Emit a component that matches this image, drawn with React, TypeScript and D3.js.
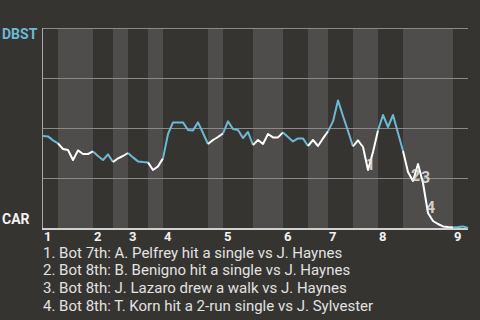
import React from "react";
import * as d3 from "d3";

// DBST win probability (%) after each event
const winProb: number[] = [
  46, 45.8, 43.8, 42.3, 39.5, 39, 34, 38.8, 37, 37,
  38.3, 36, 34, 36.8, 33, 34.8, 36, 37.5, 35.3, 33.3,
  33, 32.8, 29, 30.8, 34.8, 47, 52.8, 52.8, 52.8, 49,
  48.8, 52.8, 47.5, 42, 44, 45.5, 47.3, 53.3, 49.5, 49,
  45, 48, 41.5, 44, 42, 47, 45.3, 45.3, 47.8, 45.5,
  43.3, 44.8, 44.8, 41, 44, 41, 44.8, 48.3, 53.3, 63.8,
  56, 48.5, 40.8, 43.8, 40.5, 29, 38, 48.8, 56.5, 50.5,
  56.5, 47.5, 38.5, 28, 23.5, 32, 22.5, 7.5, 3.5, 2,
  0.8, 0.5, 0.3, 0.5, 0.8, 0,
];

// half-inning boundaries (event index)
const halfInningBounds: number[] = [0, 3, 10, 14, 17, 21, 24, 33, 36, 42, 48, 53, 57, 62, 67, 72, 82, 85];
const inningLabels: string[] = ["1", "2", "3", "4", "5", "6", "7", "8", "9"];

const gridTicks: number[] = [100, 75, 50, 25];

const keyEvents: { idx: number; label: string }[] = [
  { idx: 65, label: "1" },
  { idx: 74, label: "2" },
  { idx: 76, label: "3" },
  { idx: 77, label: "4" },
];

const legendLines: string[] = [
  "1. Bot 7th: A. Pelfrey hit a single vs J. Haynes",
  "2. Bot 8th: B. Benigno hit a single vs J. Haynes",
  "3. Bot 8th: J. Lazaro drew a walk vs J. Haynes",
  "4. Bot 8th: T. Korn hit a 2-run single vs J. Sylvester",
];

const awayTeam = "DBST";
const homeTeam = "CAR";

const W = 480;
const H = 320;
const BG = "#363431";
const BAND = "#4f4d4b";
const BLUE = "#6bbad5";
const FONT = "Roboto, 'Noto Sans', sans-serif";

export default function App() {
  const x = d3.scaleLinear().domain([0, winProb.length - 1]).range([43, 468]);
  const y = d3.scaleLinear().domain([0, 100]).range([228, 28]);

  const halves = d3.range(halfInningBounds.length - 1).map((h) => ({
    h,
    start: halfInningBounds[h],
    end: halfInningBounds[h + 1],
  }));

  const segments = halves.map((hv) => {
    const pts = winProb.slice(hv.start, hv.end + 1);
    const path = d3
      .line<number>()
      .x((_, i) => x(hv.start + i))
      .y((d) => y(d))(pts);
    return { ...hv, path };
  });

  const inningStarts = halves.filter((hv) => hv.h % 2 === 0).map((hv) => hv.start);

  return (
    <svg
      width={W}
      height={H}
      style={{ position: "absolute", left: 0, top: 0, fontFamily: FONT }}
    >
      <rect x={0} y={0} width={W} height={H} fill={BG} />
      {halves
        .filter((hv) => hv.h % 2 === 1)
        .map((hv) => (
          <rect
            key={hv.h}
            x={x(hv.start)}
            y={y(100)}
            width={x(hv.end) - x(hv.start)}
            height={y(0) - y(100) + 1}
            fill={BAND}
          />
        ))}
      {gridTicks.map((t) => (
        <line
          key={t}
          x1={x(0)}
          x2={x(winProb.length - 1)}
          y1={y(t) + 0.5}
          y2={y(t) + 0.5}
          stroke="#8c8a88"
          strokeWidth={1}
        />
      ))}
      <line x1={42.5} x2={42.5} y1={y(100)} y2={y(0) + 2} stroke="#a8a8a8" strokeWidth={1} />
      <line x1={42} x2={468} y1={y(0) + 1} y2={y(0) + 1} stroke="#d0d0d0" strokeWidth={2} />
      {segments.map((s) => (
        <path
          key={s.h}
          d={s.path || ""}
          fill="none"
          stroke={s.h % 2 === 0 ? BLUE : "#ffffff"}
          strokeWidth={2}
          strokeLinejoin="round"
        />
      ))}
      {keyEvents.map((k) => (
        <text
          key={k.label}
          x={x(k.idx) - 2}
          y={y(winProb[k.idx])}
          fill="#e6e6e6"
          fillOpacity={0.85}
          fontSize={16}
          fontWeight="bold"
        >
          {k.label}
        </text>
      ))}
      {inningStarts.map((s, i) => (
        <text key={i} x={x(s) + 1} y={241} fill="#f2f2f2" fontSize={13} fontWeight="bold">
          {inningLabels[i]}
        </text>
      ))}
      <text x={2} y={39} fill={BLUE} fontSize={14} fontWeight="bold">
        {awayTeam}
      </text>
      <text x={2} y={224} fill="#f2f2f2" fontSize={14} fontWeight="bold">
        {homeTeam}
      </text>
      {legendLines.map((l, i) => (
        <text key={i} x={43} y={257.5 + 17.8 * i} fill="#e2e2e2" fontSize={15}>
          {l}
        </text>
      ))}
    </svg>
  );
}
